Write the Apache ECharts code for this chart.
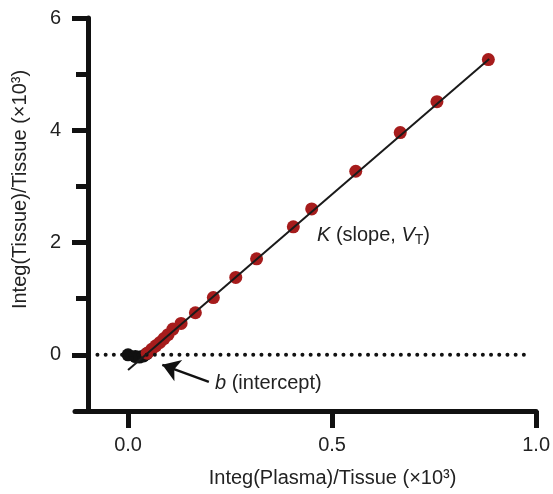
<!DOCTYPE html>
<html>
<head>
<meta charset="utf-8">
<script src="https://cdn.jsdelivr.net/npm/echarts@6/dist/echarts.min.js"></script>
<style>
  html, body { margin: 0; padding: 0; background: #fff; }
  #chart { width: 553px; height: 494px; }
</style>
</head>
<body>
<div id="chart"></div>
<script>
// early frames (not used in fit)
const blackX = [0, 0.018, 0.028, 0.038, 0.046];
const blackY = [0, -0.03, -0.04, -0.02, 0.02];

// frames used for the linear fit
const redX = [0.047, 0.058, 0.068, 0.078, 0.088, 0.098, 0.110, 0.130, 0.165, 0.209, 0.264, 0.315, 0.405, 0.450, 0.558, 0.667, 0.757, 0.883];
const redY = [0.03, 0.10, 0.16, 0.22, 0.29, 0.36, 0.46, 0.56, 0.75, 1.02, 1.38, 1.71, 2.28, 2.60, 3.27, 3.96, 4.51, 5.26];

// regression line end points
const fitX = [0, 0.885];
const fitY = [-0.27, 5.27];

// dotted zero reference
const zeroX = [-0.075, 0.985];
const zeroY = [0, 0];

const xTicks = [0, 0.5, 1];
const yTicks = [0, 2, 4, 6];
const yMinorTicks = [1, 3, 5];

const font = 'Liberation Sans, Arial, Helvetica, sans-serif';
const ink = '#111';

const zip = (xs, ys) => xs.map((x, i) => [x, ys[i]]);

const chart = echarts.init(document.getElementById('chart'));

const option = {
  animation: false,
  grid: { left: 75, right: 13, top: 18, bottom: 83 },
  xAxis: {
    type: 'value',
    min: -0.13,
    max: 1.0,
    name: 'Integ(Plasma)/Tissue (×10³)',
    nameLocation: 'middle',
    nameGap: 57,
    nameTextStyle: { fontSize: 20, color: '#222', fontFamily: font, padding: [0, 0, 0, 54] },
    axisLine: { onZero: false, lineStyle: { color: ink, width: 5 } },
    axisTick: { customValues: xTicks, length: 17, lineStyle: { color: ink, width: 5 } },
    axisLabel: {
      customValues: xTicks,
      formatter: v => v.toFixed(1),
      margin: 24,
      fontSize: 20,
      color: '#222',
      fontFamily: font
    },
    splitLine: { show: false }
  },
  yAxis: [
    {
      type: 'value',
      position: 'left',
      min: -1,
      max: 6,
      offset: -13,
      name: 'Integ(Tissue)/Tissue (×10³)',
      nameLocation: 'middle',
      nameGap: 58,
      nameTextStyle: { fontSize: 20, color: '#222', fontFamily: font, padding: [0, 0, 0, 50] },
      axisLine: { onZero: false, lineStyle: { color: ink, width: 5 } },
      axisTick: { customValues: yTicks, length: 16, lineStyle: { color: ink, width: 5 } },
      axisLabel: { customValues: yTicks, margin: 27, fontSize: 20, color: '#222', fontFamily: font },
      splitLine: { show: false }
    },
    {
      // minor ticks only
      type: 'value',
      position: 'left',
      min: -1,
      max: 6,
      offset: -13,
      axisLine: { show: false, onZero: false },
      axisTick: { customValues: yMinorTicks, length: 12, lineStyle: { color: ink, width: 5 } },
      axisLabel: { show: false },
      splitLine: { show: false }
    }
  ],
  series: [
    {
      type: 'line',
      data: zip(zeroX, zeroY),
      symbol: 'none',
      silent: true,
      lineStyle: { color: ink, width: 4, type: [0, 8.2], cap: 'round' },
      markLine: {
        silent: true,
        symbol: ['none', 'arrow'],
        symbolSize: 17,
        label: { show: false },
        lineStyle: { color: ink, width: 2.5, type: 'solid' },
        data: [[{ coord: [0.198, -0.48] }, { coord: [0.084, -0.178] }]]
      }
    },
    {
      type: 'scatter',
      data: zip(blackX, blackY),
      symbolSize: 13,
      itemStyle: { color: ink, opacity: 1 }
    },
    {
      type: 'scatter',
      data: zip(redX, redY),
      symbolSize: 13,
      itemStyle: { color: '#a61c1c', opacity: 1 }
    },
    {
      type: 'line',
      data: zip(fitX, fitY),
      symbol: 'none',
      lineStyle: { color: '#1a1a1a', width: 2 }
    }
  ],
  graphic: [
    {
      type: 'text',
      left: 317,
      top: 225,
      style: {
        text: '{i|K} (slope, {i|V}{sub|T})',
        fontSize: 20,
        fontFamily: font,
        fill: '#222',
        rich: {
          i: { fontStyle: 'italic', fontSize: 20, fontFamily: font },
          sub: { fontSize: 14, fontFamily: font, padding: [10, 0, 0, 0] }
        }
      }
    },
    {
      type: 'text',
      left: 215,
      top: 373,
      style: {
        text: '{i|b} (intercept)',
        fontSize: 20,
        fontFamily: font,
        fill: '#222',
        rich: {
          i: { fontStyle: 'italic', fontSize: 20, fontFamily: font }
        }
      }
    }
  ]
};

chart.setOption(option);
</script>
</body>
</html>
